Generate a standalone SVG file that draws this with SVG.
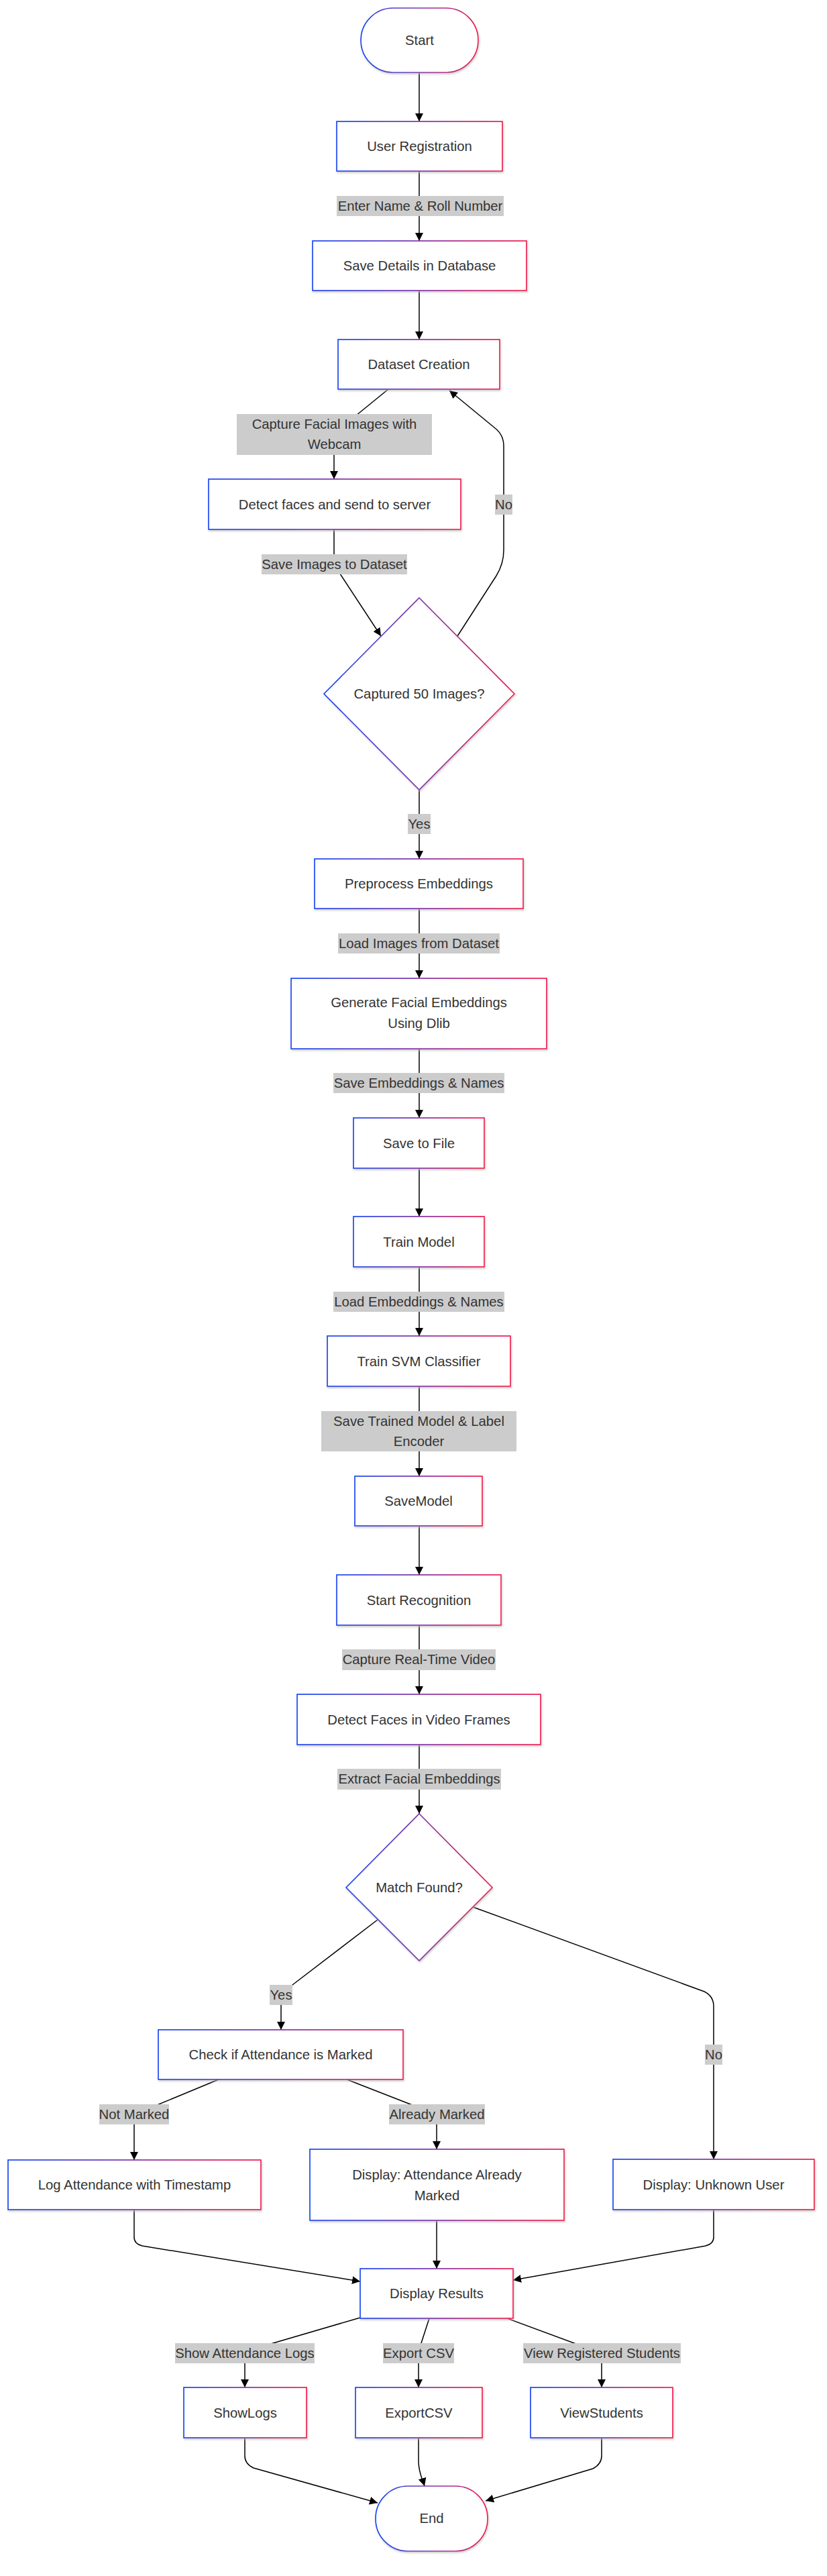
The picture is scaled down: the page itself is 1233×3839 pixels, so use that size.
<svg xmlns="http://www.w3.org/2000/svg" width="1233" height="3839" viewBox="0 0 1233 3839">
<style>
  .n { fill: #ffffff; stroke: url(#grad); stroke-width: 1.7; filter: url(#sh); }
  .t { font-family: "Liberation Sans", Arial, sans-serif; font-size: 20.3px; fill: #333333; text-anchor: middle; }
  .e { fill: none; stroke: #000000; stroke-width: 1.5; marker-end: url(#arrow); }
  .lb { fill: #cccccc; }
</style>
<defs>
  <linearGradient id="grad" x1="0" y1="0" x2="1" y2="0">
    <stop offset="0" stop-color="#1447f2"/>
    <stop offset="0.5" stop-color="#8232a8"/>
    <stop offset="1" stop-color="#f2164f"/>
  </linearGradient>
  <filter id="sh" x="-10%" y="-10%" width="120%" height="130%">
    <feDropShadow dx="1" dy="2" stdDeviation="1.5" flood-color="#b9b9b9" flood-opacity="0.7"/>
  </filter>
  <marker id="arrow" viewBox="0 0 10 10" refX="10" refY="5" markerWidth="12" markerHeight="12" markerUnits="userSpaceOnUse" orient="auto">
    <path d="M0,0 L10,5 L0,10 z" fill="#000000"/>
  </marker>
</defs>
<rect width="1233" height="3839" fill="#ffffff"/>

<g id="connectors">
  <path class="e" d="M625,108 L625,181"/>
  <path class="e" d="M625,255 L625,359"/>
  <path class="e" d="M625,433 L625,506"/>
  <path class="e" d="M579,580 L520,628 Q498,646 498,668 L498,714"/>
  <path class="e" d="M498,789 L498,830 Q499,845 505,852 L568,948"/>
  <path class="e" d="M682,948 L740,858 Q751,840 751,820 L751,665 Q751,648 738,638 L670,582"/>
  <path class="e" d="M625,1177 L625,1280"/>
  <path class="e" d="M625,1354 L625,1458"/>
  <path class="e" d="M625,1563 L625,1666"/>
  <path class="e" d="M625,1741 L625,1813"/>
  <path class="e" d="M625,1888 L625,1991"/>
  <path class="e" d="M625,2066 L625,2200"/>
  <path class="e" d="M625,2274 L625,2347"/>
  <path class="e" d="M625,2422 L625,2525"/>
  <path class="e" d="M625,2600 L625,2703"/>
  <path class="e" d="M563,2861 L440,2955 Q419,2970 419,2990 L419,3025"/>
  <path class="e" d="M705,2842 L1050,2968 Q1064,2975 1064,2990 L1064,3218"/>
  <path class="e" d="M326,3099 L215,3145 Q200,3152 200,3165 L200,3219"/>
  <path class="e" d="M517,3099 L635,3145 Q651,3152 651,3165 L651,3203"/>
  <path class="e" d="M200,3293 L200,3334 Q200,3344 212,3347 L537,3400"/>
  <path class="e" d="M651,3309 L651,3381"/>
  <path class="e" d="M1064,3293 L1064,3334 Q1064,3344 1052,3347 L765,3398"/>
  <path class="e" d="M537,3454 L390,3497 Q365,3505 365,3520 L365,3558"/>
  <path class="e" d="M640,3455 L627,3495 Q624,3505 624,3520 L624,3558"/>
  <path class="e" d="M756,3455 L875,3499 Q897,3507 897,3520 L897,3558"/>
  <path class="e" d="M365,3633 L365,3660 Q365,3672 378,3678 L563,3730"/>
  <path class="e" d="M624,3633 L624,3668 C624,3685 630,3695 633,3705"/>
  <path class="e" d="M897,3633 L897,3660 Q897,3672 884,3679 L724,3727"/>
</g>

<g id="edge-labels">
  <g id="lbl-enter"><rect class="lb" x="502" y="292" width="249" height="30"/><text class="t" x="626.5" y="314">Enter Name &amp; Roll Number</text></g>
  <g id="lbl-capture"><rect class="lb" x="353" y="617" width="291" height="61"/><text class="t" x="498.5" y="639">Capture Facial Images with</text><text class="t" x="498.5" y="669">Webcam</text></g>
  <g id="lbl-saveimg"><rect class="lb" x="390" y="826" width="217" height="30"/><text class="t" x="498.5" y="848">Save Images to Dataset</text></g>
  <g id="lbl-no1"><rect class="lb" x="738" y="737" width="26" height="30"/><text class="t" x="751" y="759">No</text></g>
  <g id="lbl-yes1"><rect class="lb" x="608" y="1213" width="34" height="30"/><text class="t" x="625" y="1235">Yes</text></g>
  <g id="lbl-loadimg"><rect class="lb" x="504" y="1391" width="241" height="30"/><text class="t" x="624.5" y="1413">Load Images from Dataset</text></g>
  <g id="lbl-saveemb"><rect class="lb" x="497" y="1599" width="255" height="30"/><text class="t" x="624.5" y="1621">Save Embeddings &amp; Names</text></g>
  <g id="lbl-loademb"><rect class="lb" x="497" y="1925" width="255" height="30"/><text class="t" x="624.5" y="1947">Load Embeddings &amp; Names</text></g>
  <g id="lbl-savetrained"><rect class="lb" x="479" y="2103" width="291" height="60"/><text class="t" x="624.5" y="2125">Save Trained Model &amp; Label</text><text class="t" x="624.5" y="2155">Encoder</text></g>
  <g id="lbl-capvideo"><rect class="lb" x="510" y="2458" width="229" height="31"/><text class="t" x="624.5" y="2480">Capture Real-Time Video</text></g>
  <g id="lbl-extract"><rect class="lb" x="503" y="2636" width="244" height="31"/><text class="t" x="625" y="2658">Extract Facial Embeddings</text></g>
  <g id="lbl-yes2"><rect class="lb" x="402" y="2958" width="34" height="30"/><text class="t" x="419" y="2980">Yes</text></g>
  <g id="lbl-no2"><rect class="lb" x="1051" y="3047" width="26" height="30"/><text class="t" x="1064" y="3069">No</text></g>
  <g id="lbl-notmarked"><rect class="lb" x="148" y="3136" width="104" height="30"/><text class="t" x="200" y="3158">Not Marked</text></g>
  <g id="lbl-already"><rect class="lb" x="580" y="3136" width="143" height="30"/><text class="t" x="651.5" y="3158">Already Marked</text></g>
  <g id="lbl-showlogs"><rect class="lb" x="261" y="3492" width="208" height="30"/><text class="t" x="365" y="3514">Show Attendance Logs</text></g>
  <g id="lbl-export"><rect class="lb" x="571" y="3492" width="106" height="30"/><text class="t" x="624" y="3514">Export CSV</text></g>
  <g id="lbl-view"><rect class="lb" x="780" y="3492" width="235" height="30"/><text class="t" x="897.5" y="3514">View Registered Students</text></g>
</g>

<g id="nodes">
  <g id="start"><rect class="n" x="538" y="12" width="175" height="96" rx="48" ry="48"/><text class="t" x="625.5" y="67">Start</text></g>
  <g id="user-registration"><rect class="n" x="502" y="181" width="247" height="74"/><text class="t" x="625.5" y="225">User Registration</text></g>
  <g id="save-details"><rect class="n" x="466" y="359" width="319" height="74"/><text class="t" x="625.5" y="403">Save Details in Database</text></g>
  <g id="dataset-creation"><rect class="n" x="504" y="506" width="241" height="74"/><text class="t" x="624.5" y="550">Dataset Creation</text></g>
  <g id="detect-faces"><rect class="n" x="311" y="714" width="376" height="75"/><text class="t" x="499" y="758.5">Detect faces and send to server</text></g>
  <g id="captured-50"><polygon class="n" points="625,891 767,1034 625,1177 483,1034"/><text class="t" x="625" y="1041">Captured 50 Images?</text></g>
  <g id="preprocess"><rect class="n" x="469" y="1280" width="311" height="74"/><text class="t" x="624.5" y="1324">Preprocess Embeddings</text></g>
  <g id="generate"><rect class="n" x="434" y="1458" width="381" height="105"/><text class="t" x="624.5" y="1501">Generate Facial Embeddings</text><text class="t" x="624.5" y="1532">Using Dlib</text></g>
  <g id="save-file"><rect class="n" x="527" y="1666" width="195" height="75"/><text class="t" x="624.5" y="1710.5">Save to File</text></g>
  <g id="train-model"><rect class="n" x="527" y="1813" width="195" height="75"/><text class="t" x="624.5" y="1857.5">Train Model</text></g>
  <g id="train-svm"><rect class="n" x="488" y="1991" width="273" height="75"/><text class="t" x="624.5" y="2035.5">Train SVM Classifier</text></g>
  <g id="save-model"><rect class="n" x="529" y="2200" width="190" height="74"/><text class="t" x="624" y="2244">SaveModel</text></g>
  <g id="start-recognition"><rect class="n" x="502" y="2347" width="245" height="75"/><text class="t" x="624.5" y="2391.5">Start Recognition</text></g>
  <g id="detect-video"><rect class="n" x="443" y="2525" width="363" height="75"/><text class="t" x="624.5" y="2569.5">Detect Faces in Video Frames</text></g>
  <g id="match-found"><polygon class="n" points="625,2703 734,2813 625,2922 516,2813"/><text class="t" x="625" y="2820">Match Found?</text></g>
  <g id="check-attendance"><rect class="n" x="236" y="3025" width="365" height="74"/><text class="t" x="418.5" y="3069">Check if Attendance is Marked</text></g>
  <g id="log-attendance"><rect class="n" x="12" y="3219" width="377" height="74"/><text class="t" x="200.5" y="3263">Log Attendance with Timestamp</text></g>
  <g id="display-already"><rect class="n" x="462" y="3203" width="379" height="106"/><text class="t" x="651.5" y="3248">Display: Attendance Already</text><text class="t" x="651.5" y="3279">Marked</text></g>
  <g id="display-unknown"><rect class="n" x="914" y="3218" width="300" height="75"/><text class="t" x="1064" y="3262.5">Display: Unknown User</text></g>
  <g id="display-results"><rect class="n" x="537" y="3381" width="228" height="74"/><text class="t" x="651" y="3425">Display Results</text></g>
  <g id="showlogs"><rect class="n" x="274" y="3558" width="183" height="75"/><text class="t" x="365.5" y="3602.5">ShowLogs</text></g>
  <g id="exportcsv"><rect class="n" x="530" y="3558" width="189" height="75"/><text class="t" x="624.5" y="3602.5">ExportCSV</text></g>
  <g id="viewstudents"><rect class="n" x="791" y="3558" width="212" height="75"/><text class="t" x="897" y="3602.5">ViewStudents</text></g>
  <g id="end"><rect class="n" x="560" y="3705" width="167" height="97" rx="48" ry="48"/><text class="t" x="643.5" y="3760">End</text></g>
</g>
</svg>
